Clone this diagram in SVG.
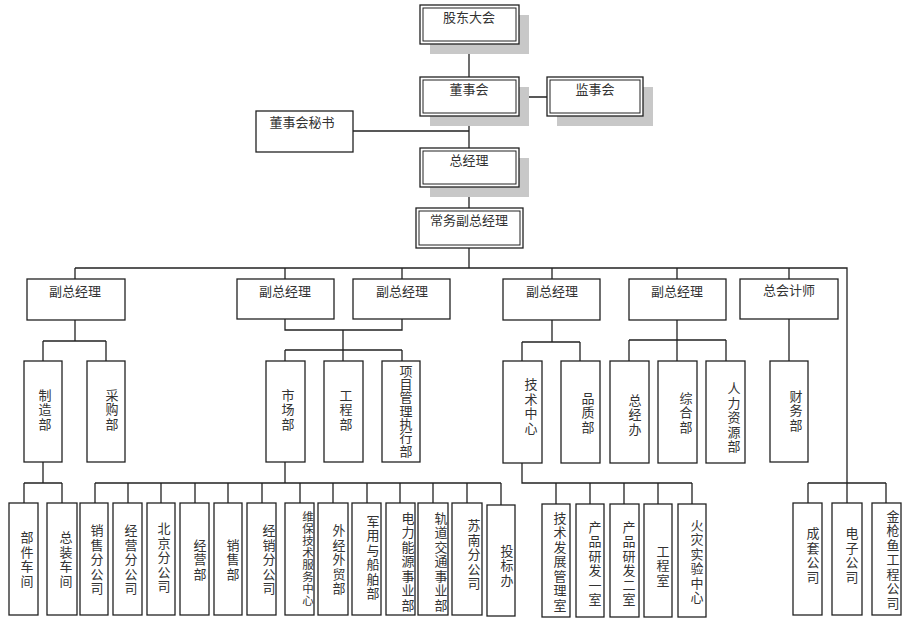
<svg xmlns="http://www.w3.org/2000/svg" width="904" height="629" viewBox="0 0 904 629">
<style>
.b{fill:#fff;stroke:#222;stroke-width:1.3}
.sh{fill:#c8c8c8}
.d{fill:none;stroke:#222;stroke-width:1}
.c{fill:none;stroke:#222;stroke-width:1.3}
text{font-family:"Noto Sans CJK SC",sans-serif;font-size:13px;fill:#333}
.h{text-anchor:middle}
.v{text-anchor:middle;writing-mode:vertical-rl;dominant-baseline:central;letter-spacing:1.5px}
.s{font-size:11.5px;letter-spacing:0.5px}
.t{letter-spacing:0.3px}
</style>
<rect width="904" height="629" fill="#fff"/>
<g id="connectors">
<path class="c" d="M469 44V77M519 97H547M469 116V148M353 131H469M469 187V208M469 248V268M75 268H847V483M75 268V279M285 268V279M402 268V279M552 268V279M677 268V279M789 268V279"/>
<path class="c" d="M75 320V341M43 341H106M43 341V361M106 341V361"/>
<path class="c" d="M285 319V330H402V319M343 330V350M285 350H402M285 350V361M343 350V361M402 350V361"/>
<path class="c" d="M552 320V342M522 342H580M522 342V361M580 342V361"/>
<path class="c" d="M677 320V340M629 340H726M629 340V361M677 340V361M726 340V361"/>
<path class="c" d="M789 319V361"/>
<path class="c" d="M43 462V483H62M24 483H62M24 483V503M62 483V503"/>
<path class="c" d="M285 462V483M95 483H501M95 483V503M128 483V503M161 483V503M195 483V503M228 483V503M262 483V503M300 483V503M333 483V503M367 483V503M400 483V503M433 483V503M467 483V503M501 483V505"/>
<path class="c" d="M522 463V483H692M556 483V504M590 483V504M624 483V504M658 483V504M692 483V504"/>
<path class="c" d="M808 483H886M808 483V503M847 483V503M886 483V503"/>
</g>
<g id="n-gddh"><rect class="sh" x="430" y="15" width="99" height="39"/><rect class="b" x="420" y="5" width="99" height="39"/><rect class="d" x="423" y="8" width="93" height="33"/><text class="h" x="469" y="22">股东大会</text></g>
<g id="n-dsh"><rect class="sh" x="430" y="87" width="99" height="39"/><rect class="b" x="420" y="77" width="99" height="39"/><rect class="d" x="423" y="80" width="93" height="33"/><text class="h" x="469" y="94">董事会</text></g>
<g id="n-jsh"><rect class="sh" x="557" y="87" width="96" height="39"/><rect class="b" x="547" y="77" width="96" height="39"/><rect class="d" x="550" y="80" width="90" height="33"/><text class="h" x="595" y="94">监事会</text></g>
<g id="n-ms"><rect class="b" x="256" y="111" width="97" height="41"/><text class="h" x="302" y="127">董事会秘书</text></g>
<g id="n-zjl"><rect class="sh" x="430" y="158" width="99" height="39"/><rect class="b" x="420" y="148" width="99" height="39"/><rect class="d" x="423" y="151" width="93" height="33"/><text class="h" x="469" y="165">总经理</text></g>
<g id="n-cw"><rect class="b" x="416" y="208" width="107" height="40"/><rect class="d" x="419" y="211" width="101" height="34"/><text class="h" x="469" y="225">常务副总经理</text></g>
<g id="n-vp1"><rect class="b" x="27" y="279" width="98" height="41"/><text class="h" x="75" y="296">副总经理</text></g>
<g id="n-vp2"><rect class="b" x="237" y="279" width="97" height="40"/><text class="h" x="285" y="296">副总经理</text></g>
<g id="n-vp3"><rect class="b" x="353" y="279" width="97" height="40"/><text class="h" x="402" y="296">副总经理</text></g>
<g id="n-vp4"><rect class="b" x="503" y="279" width="97" height="41"/><text class="h" x="552" y="296">副总经理</text></g>
<g id="n-vp5"><rect class="b" x="629" y="279" width="97" height="41"/><text class="h" x="677" y="296">副总经理</text></g>
<g id="n-zkj"><rect class="b" x="740" y="279" width="98" height="40"/><text class="h" x="789" y="295">总会计师</text></g>
<g id="n-zz"><rect class="b" x="24" y="361" width="38" height="101"/><text class="v" x="45" y="410">制造部</text></g>
<g id="n-cg"><rect class="b" x="87" y="361" width="38" height="101"/><text class="v" x="112" y="410">采购部</text></g>
<g id="n-sc"><rect class="b" x="266" y="361" width="39" height="101"/><text class="v" x="288" y="410">市场部</text></g>
<g id="n-gc"><rect class="b" x="324" y="361" width="39" height="101"/><text class="v" x="346" y="410">工程部</text></g>
<g id="n-xm"><rect class="b" x="382" y="361" width="38" height="101"/><text class="v t" x="406" y="411">项目管理执行部</text></g>
<g id="n-js"><rect class="b" x="503" y="361" width="39" height="102"/><text class="v" x="531" y="407">技术中心</text></g>
<g id="n-pz"><rect class="b" x="561" y="361" width="39" height="102"/><text class="v" x="588" y="413">品质部</text></g>
<g id="n-zjb"><rect class="b" x="610" y="361" width="39" height="102"/><text class="v" x="635" y="415">总经办</text></g>
<g id="n-zh"><rect class="b" x="658" y="361" width="39" height="102"/><text class="v" x="686" y="413">综合部</text></g>
<g id="n-rl"><rect class="b" x="706" y="361" width="39" height="102"/><text class="v" x="734" y="418">人力资源部</text></g>
<g id="n-cw2"><rect class="b" x="770" y="361" width="38" height="101"/><text class="v" x="796" y="411">财务部</text></g>
<g id="n-bj"><rect class="b" x="9" y="503" width="29" height="112"/><text class="v" x="27" y="560">部件车间</text></g>
<g id="n-zzcj"><rect class="b" x="47" y="503" width="30" height="112"/><text class="v" x="66" y="560">总装车间</text></g>
<g id="n-b1"><rect class="b" x="80" y="503" width="28" height="112"/><text class="v" x="97" y="560">销售分公司</text></g>
<g id="n-b2"><rect class="b" x="113" y="503" width="29" height="112"/><text class="v" x="131" y="560">经营分公司</text></g>
<g id="n-b3"><rect class="b" x="147" y="503" width="28" height="112"/><text class="v" x="164" y="558">北京分公司</text></g>
<g id="n-b4"><rect class="b" x="180" y="503" width="29" height="112"/><text class="v" x="200" y="560">经营部</text></g>
<g id="n-b5"><rect class="b" x="214" y="503" width="28" height="112"/><text class="v" x="233" y="560">销售部</text></g>
<g id="n-b6"><rect class="b" x="247" y="503" width="29" height="112"/><text class="v" x="269" y="560">经销分公司</text></g>
<g id="n-b7"><rect class="b" x="285" y="503" width="29" height="112"/><text class="v s" x="308" y="559">维保技术服务中心</text></g>
<g id="n-b8"><rect class="b" x="318" y="503" width="30" height="112"/><text class="v" x="339" y="560">外经外贸部</text></g>
<g id="n-b9"><rect class="b" x="352" y="503" width="29" height="112"/><text class="v" x="373" y="558">军用与船舶部</text></g>
<g id="n-b10"><rect class="b" x="386" y="503" width="29" height="112"/><text class="v" x="408" y="562">电力能源事业部</text></g>
<g id="n-b11"><rect class="b" x="418" y="503" width="30" height="112"/><text class="v" x="441" y="562">轨道交通事业部</text></g>
<g id="n-b12"><rect class="b" x="452" y="503" width="30" height="112"/><text class="v" x="474" y="555">苏南分公司</text></g>
<g id="n-b13"><rect class="b" x="487" y="505" width="28" height="111"/><text class="v" x="507" y="566">投标办</text></g>
<g id="n-t1"><rect class="b" x="542" y="504" width="28" height="113"/><text class="v" x="560" y="562">技术发展管理室</text></g>
<g id="n-t2"><rect class="b" x="576" y="504" width="28" height="113"/><text class="v" x="595" y="564">产品研发一室</text></g>
<g id="n-t3"><rect class="b" x="610" y="504" width="29" height="113"/><text class="v" x="629" y="564">产品研发二室</text></g>
<g id="n-t4"><rect class="b" x="644" y="504" width="28" height="113"/><text class="v" x="663" y="566">工程室</text></g>
<g id="n-t5"><rect class="b" x="678" y="504" width="28" height="113"/><text class="v" x="697" y="562">火灾实验中心</text></g>
<g id="n-c1"><rect class="b" x="793" y="503" width="29" height="112"/><text class="v" x="813" y="556">成套公司</text></g>
<g id="n-c2"><rect class="b" x="832" y="503" width="30" height="112"/><text class="v" x="852" y="556">电子公司</text></g>
<g id="n-c3"><rect class="b" x="872" y="503" width="29" height="112"/><text class="v" x="893" y="560">金枪鱼工程公司</text></g>
</svg>
